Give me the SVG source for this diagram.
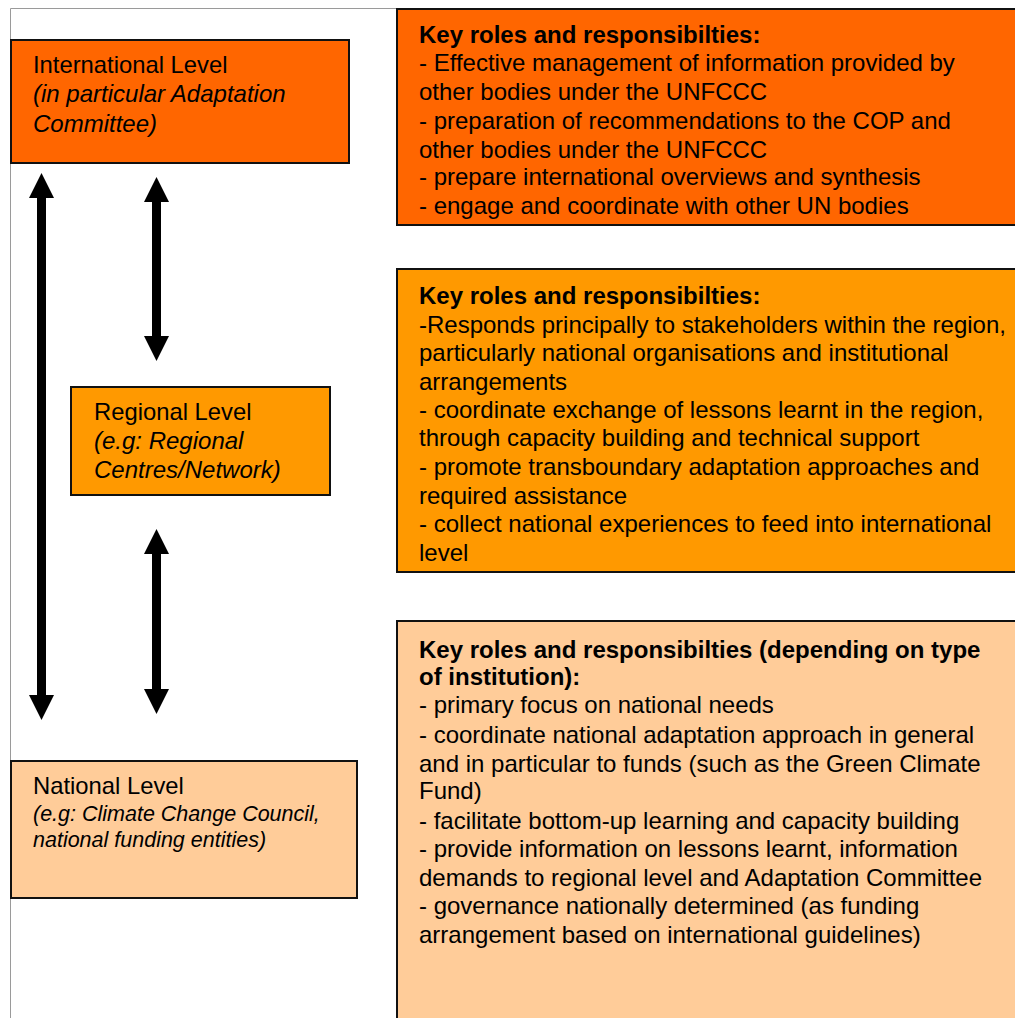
<svg xmlns="http://www.w3.org/2000/svg" width="1015" height="1018" viewBox="0 0 1015 1018">
<style>
  .frame { fill: none; stroke: #9a9a9a; stroke-width: 1; }
  .box { stroke: #111; stroke-width: 2; }
  .intl { fill: #FF6600; }
  .reg { fill: #FF9900; }
  .nat { fill: #FFCC99; }
  text { font-family: "Liberation Sans", Arial, sans-serif; fill: #000; }
  .lbl { font-size: 23.8px; }
  .lbli { font-size: 24px; font-style: italic; }
  .lbls { font-size: 21.5px; font-style: italic; }
  .body { font-size: 24px; }
  .head { font-size: 24px; font-weight: bold; }
  .arrow { fill: #000; }
</style>
<rect width="1015" height="1018" fill="#fff"/>
<path class="frame" d="M10.5,1018 V8.5 H1015"/>

<g id="connectors">
  <polygon class="arrow" points="41.5,173 54,198 46,198 46,695 54,695 41.5,720 29,695 37,695 37,198 29,198"/>
  <polygon class="arrow" points="156.5,177 169,202 161,202 161,336 169,336 156.5,361 144,336 152,336 152,202 144,202"/>
  <polygon class="arrow" points="156.5,529 169,554 161,554 161,689 169,689 156.5,714 144,689 152,689 152,554 144,554"/>
</g>

<g id="node-international">
  <rect class="box intl" x="11" y="40" width="338" height="123"/>
  <text class="lbl" x="33" y="73">International Level</text>
  <text class="lbli" x="33" y="102">(in particular Adaptation</text>
  <text class="lbli" x="33" y="132">Committee)</text>
</g>

<g id="node-regional">
  <rect class="box reg" x="71" y="387" width="259" height="108"/>
  <text class="lbl" x="94" y="420">Regional Level</text>
  <text class="lbli" x="94" y="449">(e.g: Regional</text>
  <text class="lbli" x="94" y="478">Centres/Network)</text>
</g>

<g id="node-national">
  <rect class="box nat" x="11" y="761" width="346" height="137"/>
  <text class="lbl" x="33" y="794">National Level</text>
  <text class="lbls" x="33" y="821">(e.g: Climate Change Council,</text>
  <text class="lbls" x="33" y="847">national funding entities)</text>
</g>

<g id="node-intl-roles">
  <rect class="box intl" x="397" y="9" width="640" height="216"/>
  <text class="head" x="419" y="43">Key roles and responsibilties:</text>
  <text class="body" x="419" y="71">- Effective management of information provided by</text>
  <text class="body" x="419" y="100">other bodies under the UNFCCC</text>
  <text class="body" x="419" y="129">- preparation of recommendations to the COP and</text>
  <text class="body" x="419" y="158">other bodies under the UNFCCC</text>
  <text class="body" x="419" y="185">- prepare international overviews and synthesis</text>
  <text class="body" x="419" y="214">- engage and coordinate with other UN bodies</text>
</g>

<g id="node-reg-roles">
  <rect class="box reg" x="397" y="269" width="640" height="303"/>
  <text class="head" x="419" y="304">Key roles and responsibilties:</text>
  <text class="body" x="419" y="333">-Responds principally to stakeholders within the region,</text>
  <text class="body" x="419" y="361">particularly national organisations and institutional</text>
  <text class="body" x="419" y="390">arrangements</text>
  <text class="body" x="419" y="418">- coordinate exchange of lessons learnt in the region,</text>
  <text class="body" x="419" y="446">through capacity building and technical support</text>
  <text class="body" x="419" y="475">- promote transboundary adaptation approaches and</text>
  <text class="body" x="419" y="504">required assistance</text>
  <text class="body" x="419" y="532">- collect national experiences to feed into international</text>
  <text class="body" x="419" y="561">level</text>
</g>

<g id="node-nat-roles">
  <rect class="box nat" x="397" y="621" width="640" height="420"/>
  <text class="head" x="419" y="658">Key roles and responsibilties (depending on type</text>
  <text class="head" x="419" y="685">of institution):</text>
  <text class="body" x="419" y="713">- primary focus on national needs</text>
  <text class="body" x="419" y="743">- coordinate national adaptation approach in general</text>
  <text class="body" x="419" y="772">and in particular to funds (such as the Green Climate</text>
  <text class="body" x="419" y="799">Fund)</text>
  <text class="body" x="419" y="829">- facilitate bottom-up learning and capacity building</text>
  <text class="body" x="419" y="857">- provide information on lessons learnt, information</text>
  <text class="body" x="419" y="886">demands to regional level and Adaptation Committee</text>
  <text class="body" x="419" y="914">- governance nationally determined (as funding</text>
  <text class="body" x="419" y="943">arrangement based on international guidelines)</text>
</g>
</svg>
